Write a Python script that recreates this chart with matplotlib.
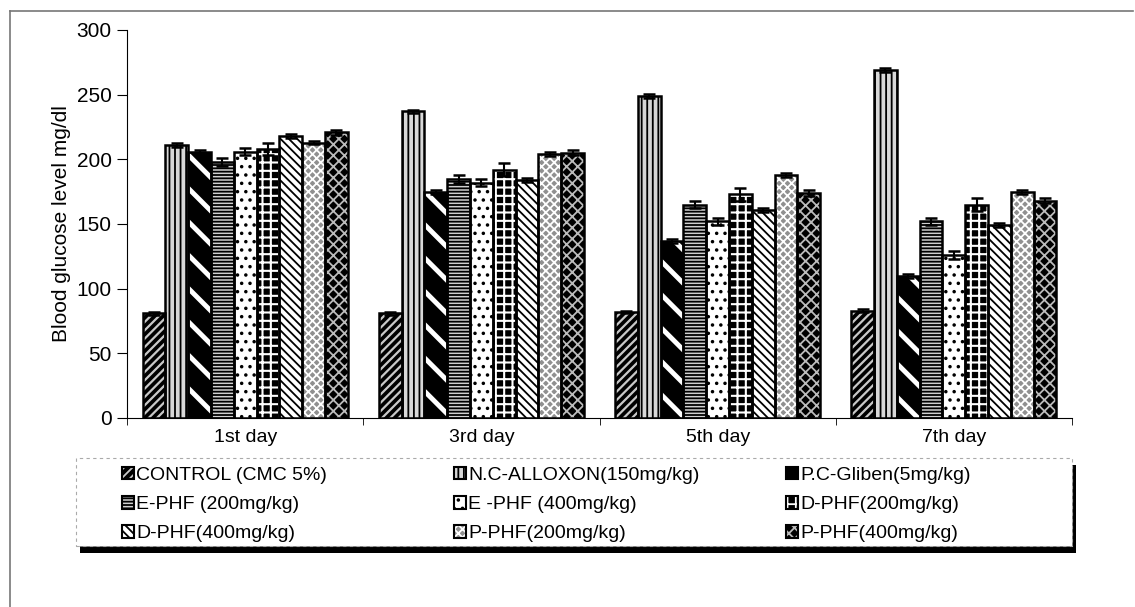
import numpy as np
import matplotlib
matplotlib.use("Agg")
from matplotlib import pyplot as plt
from matplotlib.patches import Patch, Rectangle
from matplotlib.lines import Line2D

plt.rcParams['font.family'] = ['Liberation Sans', 'DejaVu Sans']
plt.rcParams['hatch.linewidth'] = 1.3

days = ['1st day', '3rd day', '5th day', '7th day']
groups = ['CONTROL (CMC 5%)', 'N.C-ALLOXON(150mg/kg)', 'P.C-Gliben(5mg/kg)',
          'E-PHF (200mg/kg)', 'E -PHF (400mg/kg)', 'D-PHF(200mg/kg)',
          'D-PHF(400mg/kg)', 'P-PHF(200mg/kg)', 'P-PHF(400mg/kg)']

control = [81, 81, 82, 83]
nc_alloxon = [211, 237, 249, 269]
pc_gliben = [206, 175, 137, 110]
e_phf_200 = [198, 185, 165, 152]
e_phf_400 = [206, 182, 152, 126]
d_phf_200 = [208, 192, 173, 165]
d_phf_400 = [218, 184, 161, 149]
p_phf_200 = [213, 204, 188, 175]
p_phf_400 = [221, 205, 174, 168]

control_err = [1, 1, 1, 1]
nc_alloxon_err = [1.5, 1.5, 1.5, 1.5]
pc_gliben_err = [1.5, 1.5, 1.5, 1.5]
e_phf_200_err = [3, 3, 3, 3]
e_phf_400_err = [3, 3, 3, 3]
d_phf_200_err = [5, 5, 5, 5]
d_phf_400_err = [1.5, 1.5, 1.5, 1.5]
p_phf_200_err = [1.5, 1.5, 1.5, 1.5]
p_phf_400_err = [2, 2, 2, 2]

values = [control, nc_alloxon, pc_gliben, e_phf_200, e_phf_400,
          d_phf_200, d_phf_400, p_phf_200, p_phf_400]
errors = [control_err, nc_alloxon_err, pc_gliben_err, e_phf_200_err, e_phf_400_err,
          d_phf_200_err, d_phf_400_err, p_phf_200_err, p_phf_400_err]

# (face colour, hatch colour, hatch, hatch width)
styles = [
    ('black', '#c8c8c8', '////', 1.6),
    ('#d8d8d8', 'black', '|||', 1.3),
    ('black', 'white', '\\', 3.5),
    ('#d0d0d0', 'black', '-----', 1.3),
    ('white', 'black', '..', 1.3),
    ('black', 'white', '++', 1.5),
    ('white', 'black', '\\\\\\\\', 1.3),
    ('#909090', 'white', 'xxxx', 1.3),
    ('black', '#bbbbbb', 'xxx', 1.3),
]

fs = 14
fig = plt.figure(figsize=(11.35, 6.07), dpi=100)
ax = fig.add_axes([0.1119, 0.3114, 0.8326, 0.6392])

x = np.arange(len(days))
w = 0.0965
handles = []
for j, (vals, errs) in enumerate(zip(values, errors)):
    fc, hc, h, hw = styles[j]
    pos = x + (j - 4) * w
    bars = ax.bar(pos, vals, w, color=fc, edgecolor=hc, hatch=h, linewidth=0, zorder=2)
    for b in bars:
        if hasattr(b, 'set_hatch_linewidth'):
            b.set_hatch_linewidth(hw)
    ax.bar(pos, vals, w, fill=False, edgecolor='black', linewidth=1.8, zorder=3)
    ax.errorbar(pos, vals, yerr=errs, fmt='none', ecolor='black',
                elinewidth=1.5, capsize=4, capthick=1.8, zorder=4)
    handles.append((Patch(facecolor=fc, edgecolor=hc, hatch=h, linewidth=0),
                    Patch(fill=False, edgecolor='black', linewidth=1.5)))

ax.set_xlim(-0.5, 3.5)
ax.set_ylim(0, 300)
ax.set_yticks(range(0, 301, 50))
ax.set_xticks(x)
ax.set_xticklabels(days, fontsize=fs)
ax.set_xticks(np.arange(-0.5, 3.6, 1), minor=True)
ax.tick_params(axis='x', which='major', length=0, pad=8)
ax.tick_params(axis='x', which='minor', length=5, direction='out')
ax.tick_params(axis='y', labelsize=15, length=7, direction='out', pad=4)
ax.spines['top'].set_visible(False)
ax.spines['right'].set_visible(False)
ax.set_ylabel('Blood glucose level mg/dl', fontsize=15, labelpad=4)

# legend frame with shadow
lx0, lx1 = 76 / 1135, 1072 / 1135
ly0, ly1 = 1 - 546 / 607, 1 - 458 / 607
fig.patches.append(Rectangle((lx0 + 4 / 1135, ly0 - 7 / 607), lx1 - lx0, ly1 - ly0,
                             transform=fig.transFigure, facecolor='black',
                             edgecolor='none', zorder=0))
fig.patches.append(Rectangle((lx0, ly0), lx1 - lx0, ly1 - ly0,
                             transform=fig.transFigure, facecolor='white',
                             edgecolor='#aaaaaa', linestyle=(0, (3, 3)),
                             linewidth=0.8, zorder=1))

col_x = [118, 450, 782]
for c in range(3):
    idx = [c, c + 3, c + 6]
    fig.legend([handles[i] for i in idx], [groups[i] for i in idx],
               loc='upper left', bbox_to_anchor=(col_x[c] / 1135, 1 - 463 / 607),
               frameon=False, fontsize=fs, handlelength=0.6, handleheight=0.6,
               handletextpad=0.15, labelspacing=0.63, borderaxespad=0, borderpad=0.2)

# outer border (top and left)
fig.add_artist(Line2D([10 / 1135, 10 / 1135], [0, 1 - 11 / 607], color='#777777',
                      linewidth=1.2, transform=fig.transFigure))
fig.add_artist(Line2D([10 / 1135, 1133 / 1135], [1 - 11 / 607, 1 - 11 / 607],
                      color='#777777', linewidth=1.2, transform=fig.transFigure))

plt.savefig('out.png', dpi=100)
